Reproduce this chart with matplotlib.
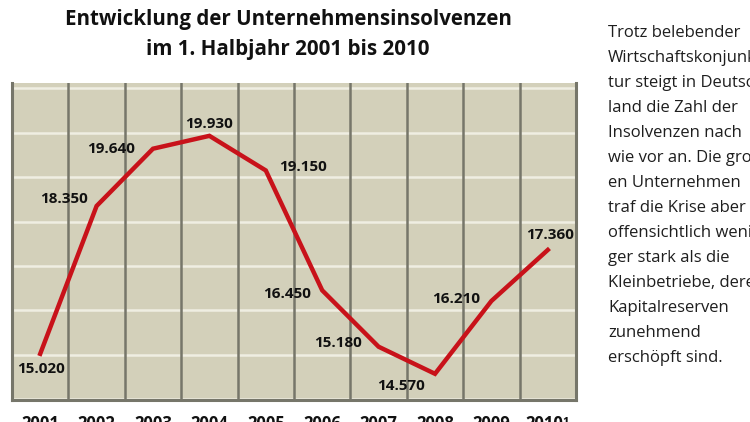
import matplotlib
matplotlib.use("Agg")
import matplotlib.pyplot as plt
import numpy as np

years = [2001, 2002, 2003, 2004, 2005, 2006, 2007, 2008, 2009, 2010]
year_labels = ["2001", "2002", "2003", "2004", "2005", "2006", "2007", "2008", "2009", "2010¹"]
insolvencies = [15020, 18350, 19640, 19930, 19150, 16450, 15180, 14570, 16210, 17360]
value_labels = ["15.020", "18.350", "19.640", "19.930", "19.150", "16.450", "15.180", "14.570", "16.210", "17.360"]
# label offsets in pixels (dx, dy)
label_offsets = [(1, -15), (-33, 7), (-42, 0), (0, 12), (37, 3), (-35, -4), (-41, 4), (-34, -12), (-35, 2), (2, 15)]

title_lines = ["Entwicklung der Unternehmensinsolvenzen", "im 1. Halbjahr 2001 bis 2010"]
side_text = ["Trotz belebender", "Wirtschaftskonjunk-", "tur steigt in Deutsch-", "land die Zahl der",
             "Insolvenzen nach", "wie vor an. Die groß-", "en Unternehmen", "traf die Krise aber",
             "offensichtlich weni-", "ger stark als die", "Kleinbetriebe, deren", "Kapitalreserven",
             "zunehmend", "erschöpft sind."]

BG = "#d3d0ba"
DARK = "#76766a"
RED = "#c8121a"

fig = plt.figure(figsize=(7.5, 4.22), dpi=100)
W, H = 750, 422
ax = fig.add_axes([12 / W, (H - 400) / H, 564 / W, 317 / H])
ax.set_facecolor(BG)
ax.set_xlim(years[0] - 0.5, years[-1] + 0.5)
ax.set_ylim(13980, 21120)

# horizontal white grid every 1000
for g in range(14000, 21001, 1000):
    ax.axhline(g, color="#efeee2", lw=1.8, zorder=1)
# vertical separators between columns
for y in years[1:]:
    ax.axvline(y - 0.5, color=DARK, lw=1.8, zorder=2)

for s in ["left", "right", "bottom"]:
    ax.spines[s].set_color(DARK)
    ax.spines[s].set_linewidth(2.2)
ax.spines["top"].set_visible(False)

ax.plot(years, insolvencies, color=RED, lw=3.2, zorder=3, solid_joinstyle="miter")

for x, v, lab, (dx, dy) in zip(years, insolvencies, value_labels, label_offsets):
    ax.annotate(lab, (x, v), xytext=(dx, dy), textcoords="offset pixels",
                ha="center", va="center", fontsize=11, fontweight="bold",
                family="Open Sans", color="#111111", zorder=4)

ax.set_yticks([])
ax.set_xticks(years)
ax.set_xticklabels(year_labels, fontsize=12, fontweight="bold", family="Open Sans", color="#111111")
ax.tick_params(axis="x", length=0, pad=11)

fig.text(288 / W, 1 - 20 / H, title_lines[0], ha="center", va="center",
         fontsize=14.8, fontweight="bold", family="Open Sans", color="#111111")
fig.text(288 / W, 1 - 50 / H, title_lines[1], ha="center", va="center",
         fontsize=14.8, fontweight="bold", family="Open Sans", color="#111111")

for i, line in enumerate(side_text):
    fig.text(608 / W, 1 - (33 + 25 * i) / H, line, ha="left", va="center",
             fontsize=12, family="Open Sans", color="#1e1e1e")

fig.savefig("out.png", dpi=100)
